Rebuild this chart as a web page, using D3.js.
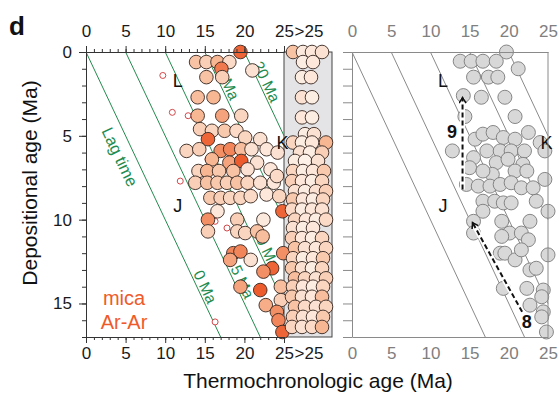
<!DOCTYPE html>
<html><head><meta charset="utf-8">
<script src="https://cdn.jsdelivr.net/npm/d3@7"></script>
<style>
body{margin:0;background:#fff}
svg{display:block;font-family:"Liberation Sans",Arial,Helvetica,sans-serif}
</style>
</head><body>
<svg id="chart" width="559" height="398"></svg>
<script>
// ---- data ----
const ageTicks = [0, 5, 10, 15, 20, 25];
const depTicks = [0, 5, 10, 15];
const overLabel = ">25";
const lagTimes = [0, 5, 10, 15, 20];
const lagNames = ["0 Ma", "5 Ma", "10 Ma", "15 Ma", "20 Ma"];
const lagLabelDep = [14.2, 13.9, 11.9, 1.83, 1.96];

// mica Ar-Ar ages (thermochronologic age, depositional age, colour shade)
const micaAge = [19.5,13.9,15.2,16.6,18.1,17.1,21.0,15.2,17.2,14.1,16.1,14.1,17.2,19.6,
  14.4,15.9,17.5,19.0,15.4,20.1,22.0,12.7,14.3,17.0,18.2,19.6,20.9,22.8,15.9,18.1,19.6,21.6,
  14.2,15.3,16.8,18.6,20.4,23.3,13.8,15.3,16.6,17.8,19.1,20.4,22.0,23.7,15.7,17.0,18.2,19.5,
  20.8,22.8,16.6,24.8,15.4,19.1,22.4,15.4,19.1,20.1,21.6,22.3,18.6,19.5,24.9,18.2,20.8,23.5,
  22.4,19.5,22.0,24.6,24.6,22.7,24.1,24.3,24.8,24.2,24.1,24.4];
const micaDep = [0.0,0.6,0.6,0.6,0.6,1.0,1.1,1.5,1.5,2.7,2.7,3.8,3.8,3.8,
  4.6,4.7,4.7,4.7,5.2,5.1,5.2,5.9,5.8,5.9,5.8,5.8,5.8,5.8,6.4,6.6,6.5,6.6,
  7.1,7.1,7.1,7.1,7.0,7.0,7.8,7.8,7.8,7.8,7.8,7.8,7.8,7.8,8.7,8.7,8.7,8.7,
  8.6,8.5,9.5,9.5,10.0,10.0,10.0,10.7,10.7,10.8,10.7,11.0,12.0,11.9,12.0,12.4,12.4,12.9,
  13.1,14.0,14.2,14.0,14.8,15.1,15.5,16.0,16.7,6.0,7.4,8.6];
const micaShade = [0.9,0.4,0.3,0.5,0.2,0.8,0.15,0.4,0.3,0.45,0.5,0.5,0.6,0.25,
  0.3,0.25,0.35,0.2,0.9,0.25,0.15,0.25,0.3,0.7,0.75,0.45,0.15,0.1,0.5,0.6,0.95,0.15,
  0.25,0.5,0.35,0.4,0.15,0.1,0.3,0.4,0.35,0.3,0.4,0.25,0.15,0.1,0.35,0.3,0.25,0.25,
  0.2,0.1,0.1,0.9,0.7,0.3,0.08,0.3,0.25,0.25,0.4,0.45,0.75,0.75,0.7,0.6,0.15,0.9,
  0.7,0.6,0.95,0.45,0.3,0.55,0.7,0.75,0.9,0.15,0.2,0.25];

// small open circles
const smallAge = [9.7,10.9,12.9,15.4,11.9,16.3,17.8,16.3];
const smallDep = [1.4,3.6,3.8,6.4,7.7,10.1,10.5,16.1];

// ages older than 25 Ma: depositional age, lane within the >25 column, shade
const overDep = [0.0,0.0,0.0,0.0, 0.6,0.6, 1.5,1.5, 2.7,2.7, 3.9,3.9, 4.9,4.9,
  5.4,5.4,5.4,5.4, 6.0,6.0,6.0, 6.5,6.5,6.5, 7.1,7.1,7.1,7.1, 7.7,7.7,7.7,7.7,
  8.3,8.3,8.3,8.3, 8.8,8.8,8.8,8.8, 9.4,9.4,9.4,9.4, 10.0,10.0,10.0,10.0, 10.5,10.5,10.5,
  11.1,11.1,11.1,11.1, 11.7,11.7,11.7,11.7, 12.3,12.3,12.3,12.3, 12.9,12.9,12.9,12.9,
  13.5,13.5,13.5,13.5, 14.0,14.0,14.0,14.0, 14.6,14.6,14.6,14.6, 15.2,15.2,15.2,15.2,
  15.8,15.8,15.8,15.8, 16.4,16.4,16.4,16.4];
const overLane = [0.1,1.1,2.0,3.0, 1.1,2.1, 1.0,1.9, 1.0,2.0, 1.0,2.0, 1.3,2.2,
  0.1,1.0,2.0,3.4, 0.8,1.8,3.0, 0.3,1.3,2.6, 0.1,1.1,2.1,3.2, 0.0,1.0,2.0,3.0,
  0.3,1.3,2.4,3.4, 0.1,1.1,2.1,3.1, 0.0,1.0,2.0,3.0, 0.3,1.4,2.4,3.4, 0.1,1.1,2.1,
  0.0,1.0,2.0,3.0, 0.3,1.3,2.4,3.4, 0.1,1.1,2.1,3.1, 0.0,1.0,2.0,3.0,
  0.3,1.3,2.4,3.4, 0.1,1.1,2.1,3.1, 0.0,1.0,2.0,3.0, 0.3,1.3,2.4,3.4,
  0.1,1.1,2.1,3.1, 0.0,1.0,2.0,3.0];
const overShade = [0.4,0.08,0.1,0.15, 0.05,0.1, 0.05,0.1, 0.15,0.05, 0.1,0.05, 0.05,0.15,
  0.25,0.05,0.1,0.5, 0.15,0.05,0.3, 0.05,0.02,0.15, 0.25,0.05,0.1,0.35, 0.3,0.1,0.05,0.25,
  0.15,0.05,0.15,0.3, 0.35,0.1,0.05,0.25, 0.2,0.05,0.1,0.15, 0.25,0.1,0.05,0.2, 0.15,0.05,0.1,
  0.3,0.1,0.05,0.25, 0.4,0.15,0.1,0.25, 0.25,0.05,0.1,0.35, 0.35,0.15,0.05,0.25,
  0.45,0.25,0.15,0.3, 0.3,0.1,0.05,0.25, 0.35,0.15,0.1,0.45, 0.4,0.2,0.15,0.25,
  0.3,0.15,0.1,0.35, 0.25,0.15,0.2,0.5];

// modelled ages (right panel)
const modelAge = [19.7,13.8,15.2,16.7,18.4,21.2,15.5,17.4,18.6,16.5,19.5,14.2,14.4,20.8,12.8,
  15.7,16.7,18.0,19.3,20.8,22.5,24.0,17.2,18.9,20.3,22.0,24.6,15.5,18.4,19.9,21.8,15.0,17.9,
  16.7,20.8,22.3,14.6,16.1,17.6,18.9,20.3,21.6,23.1,24.6,16.7,18.2,19.3,20.3,23.5,16.7,25.0,
  15.5,19.1,22.7,15.5,20.1,21.6,19.1,22.5,18.9,19.5,20.8,21.6,25.0,22.7,23.5,19.3,22.3,24.4,
  24.2,22.7,24.4,24.2,24.8];
const modelDep = [0.0,0.55,0.55,0.55,0.55,1.0,1.5,1.5,1.5,2.7,2.7,2.6,3.85,3.85,5.9,
  5.2,4.9,4.8,5.1,5.2,4.8,5.4,5.9,5.9,5.9,5.9,5.9,6.3,6.6,6.4,6.7,6.9,7.3,
  7.1,7.1,7.1,7.9,8.0,8.0,7.9,7.8,8.1,8.1,7.6,8.9,8.9,9.0,9.0,8.9,9.5,9.5,
  10.1,10.1,10.1,10.8,10.8,10.8,11.0,11.2,12.0,12.0,12.4,11.8,12.1,13.0,12.9,14.1,14.1,14.2,
  14.6,15.1,15.5,15.8,16.7];

// annotations
const siteNames = ["L", "K", "J"];
const siteAge = [11.6, 24.8, 11.6];
const siteDep = [1.7, 5.4, 9.2];
const pathNames = ["9", "8"];
const pathFromAge = [14.1, 21.7], pathFromDep = [8.2, 15.5];
const pathToAge = [14.1, 15.4], pathToDep = [2.75, 10.2];
const pathLabelAge = [12.75, 22.3], pathLabelDep = [4.8, 16.1];

// ---- layout ----
const svg = d3.select("#chart");
const y = d3.scaleLinear().domain([0, 17]).range([52, 337]);
const xL = d3.scaleLinear().domain([0, 25]).range([86, 284]);
const xR = d3.scaleLinear().domain([0, 25]).range([352, 548]);
const boxW = 48;
const boxX0 = xL(25), boxX1 = xL(25) + boxW;
const lane = d3.scaleLinear().domain([0, 3.4]).range([boxX0 + 8, boxX1 - 6]);
const shade = d3.scaleLinear().domain([0, 0.5, 1]).range(["#fdf3ec", "#f7b793", "#ec5220"]);
const green = "#238b4e";
const minor = d3.range(0, 26);
const minorDep = d3.range(0, 18);
const tickFont = 17;

// >25 column background
svg.append("rect").attr("x", boxX0).attr("y", y(0)).attr("width", boxW)
  .attr("height", y(17) - y(0)).attr("fill", "#e4e4e6").attr("stroke", "#444").attr("stroke-width", 1);

// lag-time reference lines
function lagLines(g, x, color) {
  g.selectAll("line").data(lagTimes).join("line")
    .attr("x1", d => x(d)).attr("y1", y(0))
    .attr("x2", d => x(Math.min(d + 17, 25))).attr("y2", d => y(Math.min(17, 25 - d)))
    .attr("stroke", color).attr("stroke-width", 1);
}
lagLines(svg.append("g"), xL, green);
lagLines(svg.append("g"), xR, "#8a8a8a");

// line direction for rotated labels
const ddx = xL(1) - xL(0), ddy = y(1) - y(0), dl = Math.hypot(ddx, ddy);
const ang = Math.atan2(ddy, ddx) * 180 / Math.PI;
const nx = ddy / dl, ny = -ddx / dl;
function alongLabel(text, age, dep, off, size) {
  svg.append("text")
    .attr("transform", `translate(${xL(age) + off * nx},${y(dep) + off * ny}) rotate(${ang})`)
    .attr("text-anchor", "middle").attr("dominant-baseline", "central")
    .attr("font-size", size).attr("fill", green).text(text);
}
lagTimes.forEach((t, i) => alongLabel(lagNames[i], t + lagLabelDep[i], lagLabelDep[i], 7.5, 15.5));
alongLabel("Lag time", 5.9, 5.9, -14, 16.5);

// small open circles
svg.append("g").selectAll("circle").data(smallAge).join("circle")
  .attr("cx", d => xL(d)).attr("cy", (d, i) => y(smallDep[i])).attr("r", 3)
  .attr("fill", "#fff").attr("stroke", "#d4474a").attr("stroke-width", 1);

// mica Ar-Ar ages
svg.append("g").selectAll("circle").data(micaAge).join("circle")
  .attr("cx", d => xL(d)).attr("cy", (d, i) => y(micaDep[i])).attr("r", 6.8)
  .attr("fill", (d, i) => shade(micaShade[i])).attr("stroke", "#35261f").attr("stroke-width", 0.9);

// ages older than 25 Ma
svg.append("g").selectAll("circle").data(overDep).join("circle")
  .attr("cx", (d, i) => lane(overLane[i])).attr("cy", d => y(d)).attr("r", 6.8)
  .attr("fill", (d, i) => shade(overShade[i])).attr("stroke", "#35261f").attr("stroke-width", 0.9);

// modelled ages
svg.append("g").selectAll("circle").data(modelAge).join("circle")
  .attr("cx", d => xR(d)).attr("cy", (d, i) => y(modelDep[i])).attr("r", 7)
  .attr("fill", "#d8d8d8").attr("stroke", "#7a7a7a").attr("stroke-width", 0.9);

// dashed paths in the right panel
const defs = svg.append("defs");
defs.append("marker").attr("id", "head").attr("markerUnits", "userSpaceOnUse")
  .attr("markerWidth", 10).attr("markerHeight", 10).attr("refX", 6).attr("refY", 4)
  .attr("orient", "auto")
  .append("path").attr("d", "M1,0.5 L6.5,4 L1,7.5").attr("fill", "none")
  .attr("stroke", "#111").attr("stroke-width", 1.6);
const pg = svg.append("g");
pathNames.forEach((n, i) => {
  pg.append("line").attr("x1", xR(pathFromAge[i])).attr("y1", y(pathFromDep[i]))
    .attr("x2", xR(pathToAge[i])).attr("y2", y(pathToDep[i]))
    .attr("stroke", "#fff").attr("stroke-width", 5);
  pg.append("line").attr("x1", xR(pathFromAge[i])).attr("y1", y(pathFromDep[i]))
    .attr("x2", xR(pathToAge[i])).attr("y2", y(pathToDep[i]))
    .attr("stroke", "#111").attr("stroke-width", 2).attr("stroke-dasharray", "5,3")
    .attr("marker-end", "url(#head)");
  pg.append("text").attr("x", xR(pathLabelAge[i])).attr("y", y(pathLabelDep[i]))
    .attr("text-anchor", "middle").attr("dominant-baseline", "central")
    .attr("font-size", 18).attr("font-weight", "bold").attr("fill", "#111").text(n);
});

// site letters
[xL, xR].forEach(x => {
  svg.append("g").selectAll("text").data(siteNames).join("text")
    .attr("x", (d, i) => x(siteAge[i])).attr("y", (d, i) => y(siteDep[i]))
    .attr("text-anchor", "middle").attr("dominant-baseline", "central")
    .attr("font-size", 18).attr("fill", "#111").text(d => d);
});

// ---- axes ----
function styleAxis(g, color, textColor) {
  g.selectAll(".domain").attr("stroke", color);
  g.selectAll(".tick line").attr("stroke", color);
  g.selectAll("text").attr("font-size", tickFont).attr("fill", textColor)
    .attr("font-family", "Liberation Sans, Arial, sans-serif");
  g.attr("font-family", null).attr("font-size", null);
}
const dk = "#333", dkText = "#1a1a1a";
// left panel
let g = svg.append("g").attr("transform", `translate(0,${y(0)})`);
g.call(d3.axisTop(xL).tickValues(minor).tickSize(3).tickSizeOuter(0).tickFormat(""));
g.append("g").call(d3.axisTop(xL).tickValues(ageTicks).tickSize(6).tickSizeOuter(0).tickPadding(9).tickFormat(d3.format("d")));
styleAxis(g, dk, dkText);
g = svg.append("g").attr("transform", `translate(0,${y(17)})`);
g.call(d3.axisBottom(xL).tickValues(minor).tickSize(3).tickSizeOuter(0).tickFormat(""));
g.append("g").call(d3.axisBottom(xL).tickValues(ageTicks).tickSize(6).tickSizeOuter(0).tickPadding(4).tickFormat(d3.format("d")));
styleAxis(g, dk, dkText);
g = svg.append("g").attr("transform", `translate(${xL(0)},0)`);
g.call(d3.axisLeft(y).tickValues(minorDep).tickSize(4).tickSizeOuter(0).tickFormat(""));
g.append("g").call(d3.axisLeft(y).tickValues(depTicks).tickSize(7).tickSizeOuter(0).tickPadding(7).tickFormat(d3.format("d")));
styleAxis(g, dk, dkText);
// ">25" column labels
[y(0) - 15, y(17) + 22].forEach(yy => {
  svg.append("text").attr("x", (boxX0 + boxX1) / 2 + 1).attr("y", yy)
    .attr("text-anchor", "middle").attr("font-size", tickFont).attr("fill", dkText).text(overLabel);
});

// right panel
const gr = "#8a8a8a", grText = "#808080";
g = svg.append("g").attr("transform", `translate(0,${y(0)})`);
g.call(d3.axisTop(xR).tickValues(ageTicks).tickSize(0).tickSizeOuter(0).tickPadding(15).tickFormat(d3.format("d")));
styleAxis(g, gr, grText);
g = svg.append("g").attr("transform", `translate(0,${y(17)})`);
g.call(d3.axisBottom(xR).tickValues(ageTicks).tickSize(0).tickSizeOuter(0).tickPadding(10).tickFormat(d3.format("d")));
styleAxis(g, gr, grText);
g = svg.append("g").attr("transform", `translate(${xR(0)},0)`);
g.call(d3.axisLeft(y).tickValues(minorDep).tickSize(9).tickSizeOuter(0).tickFormat(""));
styleAxis(g, gr, grText);
svg.append("line").attr("x1", xR(25)).attr("x2", xR(25)).attr("y1", y(0)).attr("y2", y(17))
  .attr("stroke", gr).attr("stroke-width", 1);

// legend
svg.append("text").attr("x", 124).attr("y", 305).attr("text-anchor", "middle")
  .attr("font-size", 20).attr("fill", "#ef5a2a").text("mica");
svg.append("text").attr("x", 124).attr("y", 329).attr("text-anchor", "middle")
  .attr("font-size", 20).attr("fill", "#ef5a2a").text("Ar-Ar");

// titles
svg.append("text").attr("x", 318).attr("y", 388).attr("text-anchor", "middle")
  .attr("font-size", 21).attr("fill", "#111").text("Thermochronologic age (Ma)");
svg.append("text").attr("transform", "translate(37,183) rotate(-90)").attr("text-anchor", "middle")
  .attr("font-size", 21).attr("fill", "#111").text("Depositional age (Ma)");
svg.append("text").attr("x", 9).attr("y", 35).attr("font-size", 26).attr("font-weight", "bold")
  .attr("fill", "#111").text("d");
</script>
</body></html>
